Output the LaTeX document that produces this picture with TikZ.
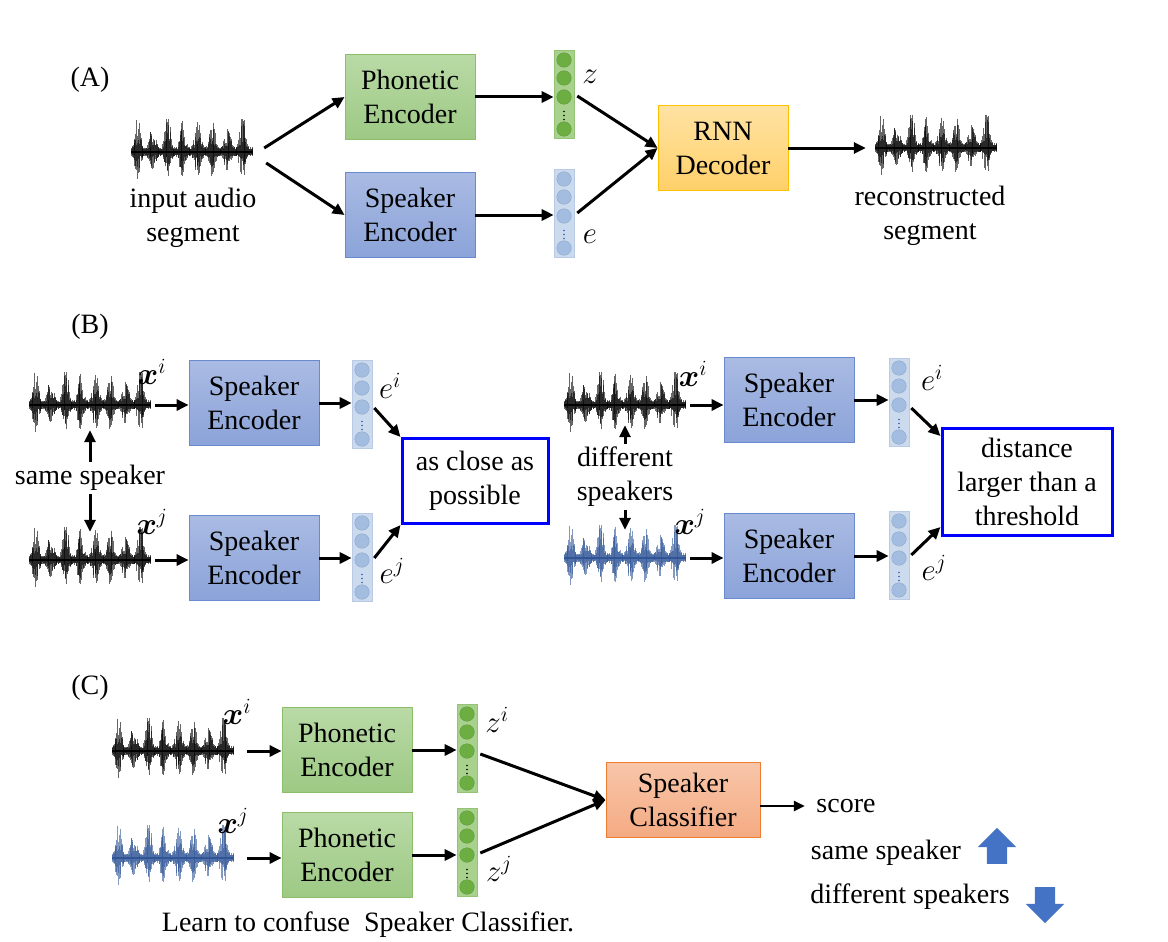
\RequirePackage{fix-cm}
\documentclass[tikz,border=0pt]{standalone}
\usepackage{fontspec}
\setmainfont{Liberation Serif}
\usepackage{bm}
\usetikzlibrary{arrows.meta,shapes.arrows}

\definecolor{phonline}{HTML}{8CBF6C}
\definecolor{phontop}{HTML}{B9DAA6}
\definecolor{phonbot}{HTML}{9DC984}
\definecolor{spkline}{HTML}{6A8ACF}
\definecolor{spktop}{HTML}{AABBE3}
\definecolor{spkbot}{HTML}{8BA3D9}
\definecolor{rnnline}{HTML}{FFC000}
\definecolor{rnntop}{HTML}{FFE3A3}
\definecolor{rnnbot}{HTML}{FFD06A}
\definecolor{clsline}{HTML}{ED7D31}
\definecolor{clstop}{HTML}{F8C6AA}
\definecolor{clsbot}{HTML}{F4AA82}
\definecolor{vgfill}{HTML}{A9D18E}
\definecolor{vgline}{HTML}{93C476}
\definecolor{vgdot}{HTML}{6CAE42}
\definecolor{vbfill}{HTML}{CCDAEE}
\definecolor{vbline}{HTML}{B8CAE6}
\definecolor{vbdot}{HTML}{A3BDE0}
\definecolor{vbdark}{HTML}{2E5FB0}
\definecolor{wblue}{HTML}{2F5597}
\definecolor{goalblue}{HTML}{0000FF}
\definecolor{arrowblue}{HTML}{4472C4}

% circles of an embedding vector, offsets taken from the middle
\newcommand{\vecdots}[2]{%
  \begin{scope}[shift={(path picture bounding box.center)}]
    \foreach \d in {-34,-16,3,35}
      \filldraw[fill=#1,draw=#1!85!black,line width=.3pt] (0,\d) circle (7.3pt);
    \foreach \d in {17.5,21.5,25.5}
      \fill[#2] (0,\d) circle (0.9pt);
  \end{scope}}

% a short speech waveform, same seed for every copy
\newcommand{\wavepic}[1]{%
  \pgfmathsetseed{4242}
  \begin{scope}[shift={(path picture bounding box.center)}]
    \foreach \k in {0,...,259}{
      \pgfmathsetmacro\xx{-61+\k*0.47}
      \pgfmathsetmacro\env{3+32*abs(sin(\xx*12+25))^3*(0.6+0.4*abs(sin(\xx*5+10)))}
      \pgfmathsetmacro\up{2+\env*(0.15+0.85*rnd)}
      \pgfmathsetmacro\dn{2+0.75*\env*(0.1+0.9*rnd)}
      \draw[#1,line width=.55pt,opacity=.6] (\xx,-\up) -- (\xx,\dn);
    }
    \draw[#1,line width=1.6pt] (-61,0) -- (61,0);
  \end{scope}}

\tikzset{
  box/.style={minimum width=130pt,minimum height=85pt,inner sep=2pt,align=center,line width=.8pt},
  phonbox/.style={box,draw=phonline,top color=phontop,bottom color=phonbot},
  spkbox/.style={box,draw=spkline,top color=spktop,bottom color=spkbot},
  rnnbox/.style={box,draw=rnnline,top color=rnntop,bottom color=rnnbot},
  clsbox/.style={box,minimum width=154pt,minimum height=75pt,draw=clsline,top color=clstop,bottom color=clsbot},
  goalbox/.style={draw=goalblue,line width=3pt,align=center,inner sep=2pt},
  vec/.style={minimum width=20pt,minimum height=88pt,inner sep=0pt,line width=.6pt},
  vecg/.style={vec,fill=vgfill,draw=vgline,path picture={\vecdots{vgdot}{black}}},
  vecb/.style={vec,fill=vbfill,draw=vbline,path picture={\vecdots{vbdot}{vbdark}}},
  wave/.style={minimum width=124pt,minimum height=72pt,inner sep=0pt,fill=white,path picture={\wavepic{#1}}},
  mathlab/.style={font=\fontsize{31}{34}\selectfont},
  arr/.style={-{Triangle[length=12pt,width=11pt]},line width=3pt},
  thinarr/.style={-{Triangle[length=11pt,width=10pt]},line width=2.5pt},
  updown/.style={single arrow,fill=arrowblue,minimum width=38pt,minimum height=36pt,
    single arrow head extend=9pt,single arrow head indent=0pt,inner sep=10pt}
}

\begin{document}
\begin{tikzpicture}[x=1pt,y=-1pt,every node/.append style={font=\fontsize{28}{34}\selectfont}]
  \useasboundingbox (0,0) rectangle (1168,942);

  % (A) reconstruction
  \node (labA) at (90,80) {(A)};
  \node[wave=black] (wavA) at (192,152) {};
  \node[align=center] (inA) at (193,218) {input audio\\segment};
  \node[phonbox] (phonA) at (410,97) {Phonetic\\Encoder};
  \node[spkbox] (spkA) at (410,215) {Speaker\\Encoder};
  \node[vecg] (vz) at (564,94) {};
  \node[vecb] (ve) at (564,213) {};
  \node[mathlab] (lz) at (590,77) {$z$};
  \node[mathlab] (le) at (590,237) {$e$};
  \node[rnnbox] (rnn) at (723,148) {RNN\\Decoder};
  \node[wave=black] (wavOut) at (936,148) {};
  \node[align=center] (outA) at (930,216) {reconstructed\\segment};

  \draw[arr] ([xshift=10pt,yshift=4pt]wavA.east) -- (phonA.west);
  \draw[arr] ([xshift=12pt,yshift=-11pt]wavA.east) -- (spkA.west);
  \draw[arr] (phonA.east) -- (phonA.east -| vz.west);
  \draw[arr] (spkA.east) -- (spkA.east -| ve.west);
  \draw[arr] ([xshift=3pt,yshift=-2pt]vz.east) -- (rnn.west);
  \draw[arr] ([xshift=3pt]ve.east) -- (rnn.west);
  \draw[arr,shorten >=8pt] (rnn.east) -- (wavOut.west);

  % (B) speaker encoder, same speaker
  \node (labB) at (90,327) {(B)};
  \node[wave=black] (wB1) at (90,405) {};
  \node[wave=black] (wB2) at (90,560) {};
  \node[mathlab] (xB1) at (152,372) {$\bm{x}^{i}$};
  \node[mathlab] (xB2) at (152,522) {$\bm{x}^{j}$};
  \node (same) at (90,478) {same speaker};
  \node[spkbox] (spkB1) at (254,403) {Speaker\\Encoder};
  \node[spkbox] (spkB2) at (254,558) {Speaker\\Encoder};
  \node[vecb] (vB1) at (362,404) {};
  \node[vecb] (vB2) at (362,557) {};
  \node[mathlab] (eB1) at (390,386) {$e^{i}$};
  \node[mathlab] (eB2) at (392,571) {$e^{j}$};
  \node[goalbox,minimum width=146pt,minimum height=85pt] (close) at (475,481) {as close as\\possible};

  \draw[arr] (same.north) -- ([yshift=11pt]wB1.south);
  \draw[arr] (same.south) -- ([yshift=-8pt]wB2.north);
  \draw[arr,shorten <=3pt] (wB1.east) -- (wB1.east -| spkB1.west);
  \draw[arr,shorten <=3pt] (wB2.east) -- (wB2.east -| spkB2.west);
  \draw[arr] (spkB1.east) -- (spkB1.east -| vB1.west);
  \draw[arr] (spkB2.east) -- (spkB2.east -| vB2.west);
  \draw[arr] ([xshift=2pt,yshift=-4pt]vB1.east) -- (close.north west);
  \draw[arr] ([xshift=2pt,yshift=-1pt]vB2.east) -- (close.south west);

  % (B) different speakers
  \node[wave=black] (wB3) at (625,405) {};
  \node[wave=wblue] (wB4) at (625,558) {};
  \node[mathlab] (xB3) at (693,374) {$\bm{x}^{i}$};
  \node[mathlab] (xB4) at (690,522) {$\bm{x}^{j}$};
  \node[align=center] (diff) at (625,477) {different\\speakers};
  \node[spkbox] (spkB3) at (789,400) {Speaker\\Encoder};
  \node[spkbox] (spkB4) at (789,556) {Speaker\\Encoder};
  \node[vecb] (vB3) at (899,402) {};
  \node[vecb] (vB4) at (899,555) {};
  \node[mathlab] (eB3) at (932,378) {$e^{i}$};
  \node[mathlab] (eB4) at (934,568) {$e^{j}$};
  \node[goalbox,minimum width=170pt,minimum height=107pt] (dist) at (1027,482) {distance\\larger than a\\threshold};

  \draw[arr] (diff.north) -- ([yshift=16pt]wB3.south);
  \draw[arr] (diff.south) -- ([yshift=-8pt]wB4.north);
  \draw[arr,shorten <=3pt] (wB3.east) -- (wB3.east -| spkB3.west);
  \draw[arr,shorten <=3pt] (wB4.east) -- (wB4.east -| spkB4.west);
  \draw[arr] (spkB3.east) -- (spkB3.east -| vB3.west);
  \draw[arr] (spkB4.east) -- (spkB4.east -| vB4.west);
  \draw[arr] ([xshift=2pt,yshift=-6pt]vB3.east) -- ([yshift=-9pt]dist.north west);
  \draw[arr] ([xshift=2pt]vB4.east) -- ([yshift=10pt]dist.south west);

  % (C) adversarial speaker classifier
  \node (labC) at (90,688) {(C)};
  \node[wave=black] (wC1) at (173,751) {};
  \node[wave=wblue] (wC2) at (173,858) {};
  \node[mathlab] (xC1) at (237,712) {$\bm{x}^{i}$};
  \node[mathlab] (xC2) at (233,821) {$\bm{x}^{j}$};
  \node[phonbox] (phC1) at (347,750) {Phonetic\\Encoder};
  \node[phonbox] (phC2) at (347,855) {Phonetic\\Encoder};
  \node[vecg] (vC1) at (467,748) {};
  \node[vecg] (vC2) at (467,852) {};
  \node[mathlab] (zC1) at (497,720) {$z^{i}$};
  \node[mathlab] (zC2) at (499,869) {$z^{j}$};
  \node[clsbox] (cls) at (683,800) {Speaker\\Classifier};
  \node (score) at (846,806) {score};
  \node (sameC) at (886,853) {same speaker};
  \node (diffC) at (910,897) {different speakers};
  \node[updown,shape border rotate=90] (up) at (997,851) {};
  \node[updown,shape border rotate=270] (down) at (1045,900) {};
  \node (learn) at (368,925) {Learn to confuse\ \ Speaker Classifier.};

  \draw[arr,shorten <=12pt] (wC1.east) -- (wC1.east -| phC1.west);
  \draw[arr,shorten <=12pt] (wC2.east) -- (wC2.east -| phC2.west);
  \draw[arr] (phC1.east) -- (phC1.east -| vC1.west);
  \draw[arr] (phC2.east) -- (phC2.east -| vC2.west);
  \draw[arr] ([xshift=3pt,yshift=-6pt]vC1.east) -- (cls.west);
  \draw[arr] ([xshift=3pt,yshift=-1pt]vC2.east) -- (cls.west);
  \draw[thinarr,shorten >=8pt] ([yshift=-6pt]cls.east) -- (score.west);
\end{tikzpicture}
\end{document}
